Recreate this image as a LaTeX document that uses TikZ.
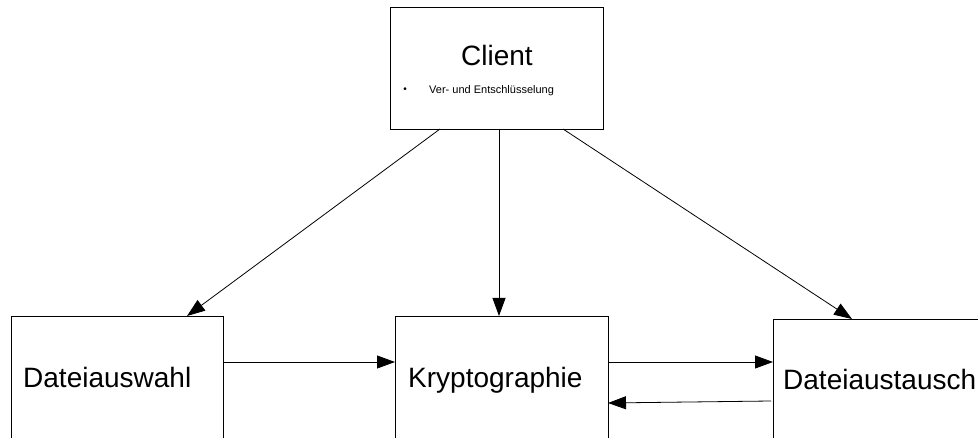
\documentclass[tikz,border=0pt]{standalone}
\usepackage{fontspec}
\setmainfont{Liberation Sans}
\usetikzlibrary{arrows.meta,calc}
\begin{document}
\begin{tikzpicture}[x=1pt,y=-1pt,
  box/.style={draw=black,line width=0.9pt,fill=white,inner sep=0pt,outer sep=0pt,anchor=north west},
  conn/.style={draw=black,line width=0.8pt,-{Triangle[length=18pt,width=13pt]}},
  big/.style={font=\fontsize{28}{32}\selectfont,inner sep=0pt,anchor=base west},
  small/.style={font=\fontsize{11}{13}\selectfont,inner sep=0pt,anchor=base west}
]
\useasboundingbox (0,0) rectangle (978,438);
\clip (0,0) rectangle (978,438);
\node[box,minimum width=213pt,minimum height=122pt] (client) at (390,7) {};
\node[box,minimum width=212pt,minimum height=150pt] (auswahl) at (11,316) {};
\node[box,minimum width=213pt,minimum height=150pt] (krypto) at (395,316) {};
\node[box,minimum width=230pt,minimum height=150pt] (austausch) at (773,319) {};
\node[big,anchor=base] (clientlbl) at (497,66) {Client};
\node[font=\fontsize{10}{11}\selectfont,inner sep=0pt] (bullet) at (405,90) {•};
\node[small] (cliitem) at (429,94) {Ver- und Entschlüsselung};
\node[big] (auswahllbl) at (23,388) {Dateiauswahl};
\node[big] (kryptolbl) at (408,388) {Kryptographie};
\node[big] (austauschlbl) at (783,390) {Dateiaustausch};
\draw[conn] ($(client.south west)+(50,0)$) -- ($(auswahl.north west)+(176,0)$);
\draw[conn] ($(client.south west)+(109,0)$) -- ($(krypto.north west)+(104,0)$);
\draw[conn] ($(client.south west)+(173,0)$) -- ($(austausch.north west)+(79,0)$);
\draw[conn] ($(auswahl.north east)+(0,46)$) -- ($(krypto.north west)+(0,46)$);
\draw[conn] ($(krypto.north east)+(0,46)$) -- ($(austausch.north west)+(0,43)$);
\draw[conn] ($(austausch.north west)+(-2,82)$) -- ($(krypto.north east)+(0,87)$);
\end{tikzpicture}
\end{document}
